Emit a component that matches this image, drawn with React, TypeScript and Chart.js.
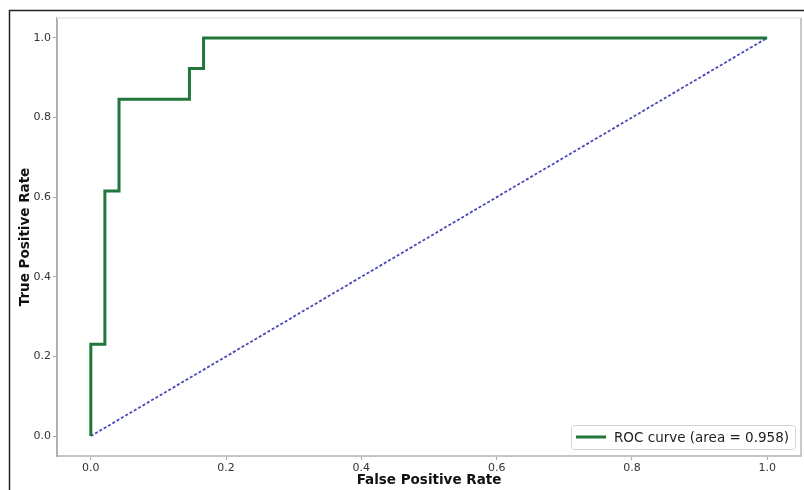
import React, { useEffect, useRef } from "react";
import { Chart, registerables } from "chart.js";

Chart.register(...registerables);

// ROC curve points (False Positive Rate, True Positive Rate)
const fpr = [0, 0, 0.0208, 0.0208, 0.0417, 0.0417, 0.1458, 0.1458, 0.1667, 0.1667, 1.0];
const tpr = [0, 0.2308, 0.2308, 0.6154, 0.6154, 0.8462, 0.8462, 0.9231, 0.9231, 1.0, 1.0];
// chance diagonal
const diagX = [0, 1];
const diagY = [0, 1];
const tickValues = [0, 0.2, 0.4, 0.6, 0.8, 1.0];
const rocLabel = "ROC curve (area = 0.958)";
const xTitle = "False Positive Rate";
const yTitle = "True Positive Rate";

const FONT = '"DejaVu Sans", sans-serif';

const framePlugin = {
  id: "frame",
  afterDraw(chart: any) {
    const { ctx, chartArea } = chart;
    ctx.save();
    // light top spine and right spine
    ctx.strokeStyle = "#ececec";
    ctx.lineWidth = 2;
    ctx.beginPath();
    ctx.moveTo(chartArea.left, chartArea.top);
    ctx.lineTo(chartArea.right, chartArea.top);
    ctx.stroke();
    ctx.strokeStyle = "#b8b8b8";
    ctx.lineWidth = 1.5;
    ctx.beginPath();
    ctx.moveTo(chartArea.right, chartArea.top);
    ctx.lineTo(chartArea.right, chartArea.bottom);
    ctx.stroke();
    // outer figure border (left & top)
    ctx.strokeStyle = "#222";
    ctx.lineWidth = 1.5;
    ctx.beginPath();
    ctx.moveTo(9.5, chart.height);
    ctx.lineTo(9.5, 10.5);
    ctx.lineTo(chart.width, 10.5);
    ctx.stroke();
    ctx.restore();
  },
};

const legendPlugin = {
  id: "insideLegend",
  afterDraw(chart: any) {
    const { ctx, chartArea } = chart;
    const ds = chart.data.datasets[0];
    ctx.save();
    ctx.font = `13.5px ${FONT}`;
    const tw = ctx.measureText(ds.label).width;
    const h = 24;
    const w = 5 + 30 + 8 + tw + 6;
    const x = chartArea.right - 6 - w;
    const y = chartArea.bottom - 7 - h;
    ctx.fillStyle = "rgba(255,255,255,0.85)";
    ctx.strokeStyle = "#d4d4d4";
    ctx.lineWidth = 1;
    ctx.beginPath();
    (ctx as any).roundRect(x + 0.5, y + 0.5, w, h, 3);
    ctx.fill();
    ctx.stroke();
    ctx.strokeStyle = ds.borderColor;
    ctx.lineWidth = 3;
    ctx.beginPath();
    ctx.moveTo(x + 5, y + h / 2);
    ctx.lineTo(x + 35, y + h / 2);
    ctx.stroke();
    ctx.fillStyle = "#222";
    ctx.textBaseline = "middle";
    ctx.textAlign = "left";
    ctx.fillText(ds.label, x + 43, y + h / 2 + 1);
    ctx.restore();
  },
};

export default function App() {
  const ref = useRef<HTMLCanvasElement | null>(null);
  useEffect(() => {
    if (!ref.current) return;
    const setTicks = (axis: any) => {
      axis.ticks = tickValues.map((v) => ({ value: v }));
    };
    const chart = new Chart(ref.current, {
      type: "line",
      data: {
        datasets: [
          {
            label: rocLabel,
            data: fpr.map((x, i) => ({ x, y: tpr[i] })),
            borderColor: "#21773b",
            borderWidth: 3,
            pointRadius: 0,
            fill: false,
            tension: 0,
          },
          {
            label: "",
            data: diagX.map((x, i) => ({ x, y: diagY[i] })),
            borderColor: "#4848b8",
            borderWidth: 1.8,
            borderDash: [3, 2],
            pointRadius: 0,
            fill: false,
            tension: 0,
          },
        ],
      },
      options: {
        animation: false,
        responsive: false,
        layout: { padding: { top: 18, right: 3, left: 0, bottom: 0 } },
        plugins: {
          legend: { display: false },
          tooltip: { enabled: false },
        },
        scales: {
          x: {
            type: "linear",
            min: -0.05,
            max: 1.05,
            afterBuildTicks: setTicks,
            afterFit: (axis: any) => {
              axis.height = 34;
            },
            grid: {
              drawOnChartArea: false,
              drawTicks: true,
              tickLength: 4,
              color: "#aaa",
            },
            border: { display: true, color: "#c4c4c4", width: 2 },
            ticks: {
              padding: 2,
              color: "#333",
              font: { family: FONT, size: 11 },
              callback: (v: any) => Number(v).toFixed(1),
            },
            title: {
              display: true,
              text: xTitle,
              color: "#111",
              font: { family: FONT, size: 13.5, weight: "bold" },
              padding: { top: 0, bottom: 1 },
            },
          },
          y: {
            type: "linear",
            min: -0.05,
            max: 1.05,
            afterBuildTicks: setTicks,
            afterFit: (axis: any) => {
              axis.width = 57;
            },
            grid: {
              drawOnChartArea: false,
              drawTicks: true,
              tickLength: 4,
              color: "#aaa",
            },
            border: { display: true, color: "#b0b0b0", width: 2 },
            ticks: {
              padding: 2,
              color: "#333",
              font: { family: FONT, size: 11 },
              callback: (v: any) => Number(v).toFixed(1),
            },
            title: {
              display: true,
              text: yTitle,
              color: "#111",
              font: { family: FONT, size: 13.5, weight: "bold" },
              padding: { top: 17, bottom: 0 },
            },
          },
        },
      },
      plugins: [framePlugin, legendPlugin],
    });
    return () => chart.destroy();
  }, []);
  return (
    <div style={{ position: "absolute", left: 0, top: 0, width: 804, height: 490, background: "#fff" }}>
      <canvas ref={ref} width={804} height={490} style={{ display: "block" }} />
    </div>
  );
}
